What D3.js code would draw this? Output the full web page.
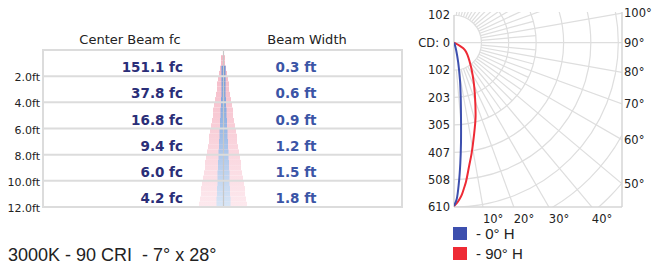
<!DOCTYPE html>
<html>
<head>
<meta charset="utf-8">
<script src="https://cdn.jsdelivr.net/npm/d3@7"></script>
<style>
body { margin:0; background:#fff; }
svg { display:block; }
text { font-family: "DejaVu Sans", sans-serif; fill:#222; }
</style>
</head>
<body>
<svg id="chart"></svg>
<script>
// table data
var distances = [2, 4, 6, 8, 10, 12];
var centerBeam = [151.1, 37.8, 16.8, 9.4, 6.0, 4.2];
var beamWidth = [0.3, 0.6, 0.9, 1.2, 1.5, 1.8];
var fieldAngle = 28;

// polar data (candela by angle from nadir)
var angles = [0, 1, 2, 3, 4, 5, 7, 9, 12, 16, 21, 27, 38, 56, 90];
var cd0H  = [606, 580, 520, 448, 372, 300, 205, 143, 75, 30, 10, 4, 0, 0, 0];
var cd90H = [606, 596, 582, 564, 540, 516, 461, 417, 355, 290, 218, 160, 97, 49, 0];
var cdTicks = [-102, 0, 102, 203, 305, 407, 508, 610];
var rings = [102, 203, 305, 407, 508, 610, 712, 813];
var rightAngleTicks = [50, 60, 70, 80, 90, 100];
var bottomAngleTicks = [10, 20, 30, 40];
var legendLabels = ["- 0° H", "- 90° H"];
var colors = ["#3d4fae", "#ee2a35"];
var footer = "3000K - 90 CRI \u00a0- 7° x 28°";

var svgWidth = 652, svgHeight = 264;
var svg = d3.select("#chart")
    .attr("width", svgWidth)
    .attr("height", svgHeight);

var defs = svg.append("defs");
function grad(id, c0, c1) {
    var g = defs.append("linearGradient")
        .attr("id", id)
        .attr("gradientUnits", "userSpaceOnUse")
        .attr("x1", 0).attr("x2", 0).attr("y1", 50).attr("y2", 207);
    g.append("stop").attr("offset", 0).attr("stop-color", c0);
    g.append("stop").attr("offset", 1).attr("stop-color", c1);
}
grad("pinkGrad", "#f4b4c2", "#fde9ee");
grad("blueGrad", "#5d8cd5", "#d8e6f6");

// ---------- table ----------
var tLeft = 43, tRight = 402;
var y = d3.scaleLinear().domain([0, 12]).range([50, 207]);
var coneX = 223;
var ft = d3.scaleLinear().domain([-3, 3]).range([coneX - 24, coneX + 24]);
var bwScale = d3.scaleLinear().domain(distances).range(beamWidth);

var step = 0.4;
var half = Math.tan(fieldAngle / 2 * Math.PI / 180);
var pinkSteps = d3.range(1, 30).map(function(i){ return i * step; });
svg.append("g").selectAll("rect")
    .data(pinkSteps)
    .enter()
    .append("rect")
    .attr("x", function(d){ return Math.round(ft(-(d + step) * half)); })
    .attr("width", function(d){ return Math.round(ft((d + step) * half)) - Math.round(ft(-(d + step) * half)); })
    .attr("y", function(d){ return y(d); })
    .attr("height", function(d){ return y(Math.min(d + step, 12)) - y(d); })
    .attr("fill", "url(#pinkGrad)");

var blueSteps = d3.range(3, 30).map(function(i){ return i * step; });
function blueW(d){ return Math.max(4, Math.round((ft(bwScale(d + step) / 2) - coneX) * 2)); }
svg.append("g").selectAll("rect")
    .data(blueSteps)
    .enter()
    .append("rect")
    .attr("x", function(d){ return coneX + 0.5 - blueW(d) / 2; })
    .attr("width", blueW)
    .attr("y", function(d){ return y(d); })
    .attr("height", function(d){ return y(Math.min(d + step, 12)) - y(d); })
    .attr("fill", "url(#blueGrad)");

svg.append("line")
    .attr("x1", coneX + 0.5).attr("x2", coneX + 0.5)
    .attr("y1", y(0)).attr("y2", y(12))
    .attr("stroke", "#c8c8c8").attr("stroke-width", 1.2);

svg.append("g").selectAll("line")
    .data([0].concat(distances))
    .enter()
    .append("line")
    .attr("x1", tLeft).attr("x2", tRight)
    .attr("y1", function(d){ return y(d); })
    .attr("y2", function(d){ return y(d); })
    .attr("stroke", "#dcdcdc").attr("stroke-width", 2);

[tLeft, tRight].forEach(function(x){
    svg.append("line")
        .attr("x1", x).attr("x2", x)
        .attr("y1", y(0) - 1).attr("y2", y(12) + 1)
        .attr("stroke", "#dcdcdc").attr("stroke-width", 2);
});

svg.append("text").text("Center Beam fc")
    .attr("x", 130).attr("y", 44)
    .attr("text-anchor", "middle").style("font-size", "13px");
svg.append("text").text("Beam Width")
    .attr("x", 307).attr("y", 44)
    .attr("text-anchor", "middle").style("font-size", "13px");

svg.append("g").selectAll("text")
    .data(distances)
    .enter()
    .append("text")
    .text(function(d){ return d3.format(".1f")(d) + "ft"; })
    .attr("x", 40)
    .attr("y", function(d){ return y(d) + 5; })
    .attr("text-anchor", "end")
    .style("font-size", "11px");

svg.append("g").selectAll("text")
    .data(centerBeam)
    .enter()
    .append("text")
    .text(function(d){ return d3.format(".1f")(d) + " fc"; })
    .attr("x", 183)
    .attr("y", function(d, i){ return y(distances[i]) - 4; })
    .attr("text-anchor", "end")
    .style("font-size", "13.5px").style("font-weight", "bold")
    .style("fill", "#2a2e78");

svg.append("g").selectAll("text")
    .data(beamWidth)
    .enter()
    .append("text")
    .text(function(d){ return d3.format(".1f")(d) + " ft"; })
    .attr("x", 296)
    .attr("y", function(d, i){ return y(distances[i]) - 4; })
    .attr("text-anchor", "middle")
    .style("font-size", "13.5px").style("font-weight", "bold")
    .style("fill", "#3b55a6");

// ---------- polar ----------
var cx = 454, cy = 42.7;
var box = {left: 454, right: 622, top: 15, bottom: 207};
var r = d3.scaleLinear().domain([0, 610]).range([0, box.bottom - cy]);
var yPolar = d3.scaleLinear().domain([0, 610]).range([cy, box.bottom]);

defs.append("clipPath").attr("id", "polarClip")
    .append("rect")
    .attr("x", box.left).attr("y", box.top - 3)
    .attr("width", box.right - box.left).attr("height", box.bottom - box.top + 3);

var grid = svg.append("g").attr("clip-path", "url(#polarClip)")
    .append("g")
    .attr("transform", "translate(" + cx + "," + cy + ")");

grid.selectAll("path.ring")
    .data(rings)
    .enter()
    .append("path")
    .attr("class", "ring")
    .attr("d", function(d){
        var p = d3.path();
        p.arc(0, 0, r(d), -Math.PI / 2, Math.PI / 2);
        return p.toString();
    })
    .attr("fill", "none").attr("stroke", "#dedede").attr("stroke-width", 1.2);

grid.selectAll("line.spoke")
    .data(d3.range(5, 180, 5))
    .enter()
    .append("line")
    .attr("class", "spoke")
    .each(function(t){
        var a = t * Math.PI / 180;
        var r0 = t === 90 ? 0 : r(102);
        var r1 = t % 10 === 0 ? 400 : r(305);
        d3.select(this)
            .attr("x1", r0 * Math.sin(a)).attr("y1", r0 * Math.cos(a))
            .attr("x2", r1 * Math.sin(a)).attr("y2", r1 * Math.cos(a));
    })
    .attr("stroke", "#dedede").attr("stroke-width", 1.2);

// box edges
[[box.left, box.top, box.left, box.bottom],
 [box.right, box.top - 3, box.right, box.bottom],
 [box.left, box.bottom, box.right, box.bottom]].forEach(function(l){
    svg.append("line")
        .attr("x1", l[0]).attr("y1", l[1]).attr("x2", l[2]).attr("y2", l[3])
        .attr("stroke", "#d6d6d6").attr("stroke-width", 1.5);
});

var curve = d3.lineRadial()
    .angle(function(d, i){ return Math.PI - angles[i] * Math.PI / 180; })
    .radius(function(d){ return r(d); })
    .curve(d3.curveCatmullRom);

var curves = svg.append("g").attr("clip-path", "url(#polarClip)")
    .append("g").attr("transform", "translate(" + cx + "," + cy + ")");
[cd90H, cd0H].forEach(function(s, k){
    curves.append("path")
        .attr("d", curve(s))
        .attr("fill", "none")
        .attr("stroke", colors[1 - k])
        .attr("stroke-width", 2);
});

var axis = d3.axisLeft(yPolar)
    .tickValues(cdTicks)
    .tickSize(0)
    .tickPadding(4)
    .tickFormat(function(v){ return v === 0 ? "CD: 0" : Math.abs(v); });
var ax = svg.append("g").attr("transform", "translate(" + box.left + ",0)").call(axis);
ax.select(".domain").remove();
ax.selectAll("text").style("font-family", "DejaVu Sans").style("font-size", "11.5px").style("fill", "#222");

svg.append("g").selectAll("text")
    .data(rightAngleTicks)
    .enter()
    .append("text")
    .text(function(d){ return d + "°"; })
    .attr("x", box.right + 2)
    .attr("y", function(d){
        var a = d * Math.PI / 180;
        return cy + (box.right - cx) * Math.cos(a) / Math.sin(a);
    })
    .attr("dy", "0.35em")
    .style("font-size", "11.5px");

svg.append("g").selectAll("text")
    .data(bottomAngleTicks)
    .enter()
    .append("text")
    .text(function(d){ return d + "°"; })
    .attr("x", function(d){ return cx + (box.bottom - cy) * Math.tan(d * Math.PI / 180); })
    .attr("y", box.bottom + 16)
    .style("font-size", "11.5px");

// legend
var legend = svg.append("g").selectAll("g")
    .data(legendLabels)
    .enter()
    .append("g")
    .attr("transform", function(d, i){ return "translate(453," + (227 + i * 20) + ")"; });
legend.append("rect")
    .attr("width", 14).attr("height", 13)
    .attr("fill", function(d, i){ return colors[i]; });
legend.append("text")
    .text(function(d){ return d; })
    .attr("x", 23).attr("y", 11.5)
    .style("font-family", "Liberation Sans").style("font-size", "15px");

svg.append("text")
    .text(footer)
    .attr("x", 8).attr("y", 261)
    .style("font-family", "Liberation Sans").style("font-size", "18px");
</script>
</body>
</html>
